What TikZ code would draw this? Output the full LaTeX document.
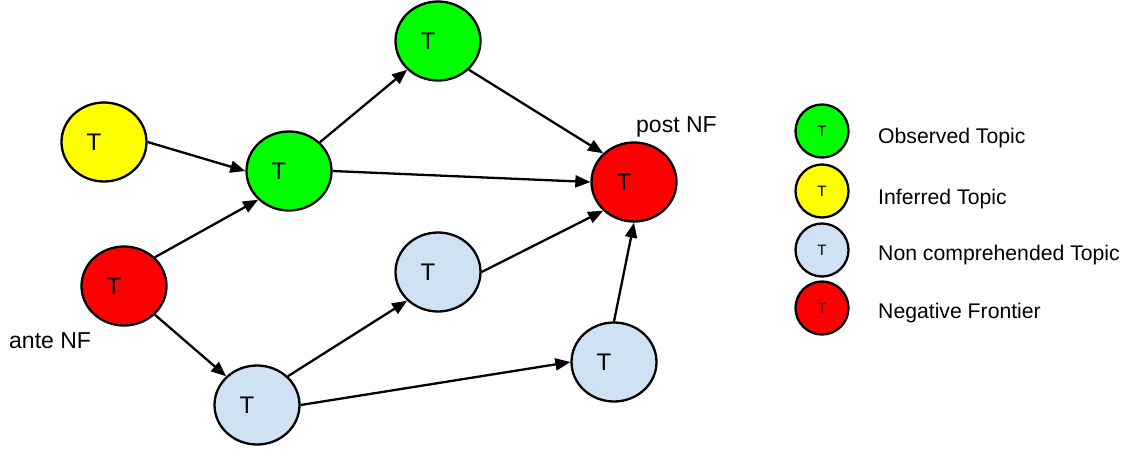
\documentclass[tikz,border=0pt]{standalone}
\usepackage{fontspec}
\setmainfont{Liberation Sans}
\usetikzlibrary{shapes.geometric,arrows.meta}
\definecolor{obsgreen}{HTML}{00FF00}
\definecolor{infyellow}{HTML}{FFFF00}
\definecolor{nfred}{HTML}{FF0000}
\definecolor{ncblue}{HTML}{CFE2F3}
\tikzset{
  topic/.style={ellipse, draw=black, line width=2.3pt, minimum width=85pt,
    minimum height=79pt, inner sep=0pt, font=\fontsize{24}{26}\selectfont},
  legdot/.style={circle, draw=black, line width=2.3pt, minimum size=53pt,
    inner sep=0pt, font=\fontsize{15}{17}\selectfont},
  legtext/.style={anchor=base west, inner sep=0pt, font=\fontsize{21.2}{24}\selectfont},
  nflabel/.style={anchor=base west, inner sep=0pt, font=\fontsize{23}{26}\selectfont},
  link/.style={line width=2.3pt, -{Triangle[length=15pt,width=12pt]}},
}
% topic label, set a little left of the ellipse centre
\newcommand{\tsym}{\hspace*{-20pt}T}
\begin{document}
\begin{tikzpicture}[x=1pt, y=-1pt]
\useasboundingbox (0,0) rectangle (1126,448);

% topic graph
\node[topic, fill=obsgreen]  (g1) at (438,41)  {\tsym};
\node[topic, fill=infyellow] (y1) at (104,142) {\tsym};
\node[topic, fill=obsgreen]  (g2) at (289,171) {\tsym};
\node[topic, fill=nfred]     (r2) at (634,182) {\tsym};
\node[topic, fill=nfred]     (r1) at (124,286) {\tsym};
\node[topic, fill=ncblue]    (b2) at (438,272) {\tsym};
\node[topic, fill=ncblue]    (b3) at (614,362) {\tsym};
\node[topic, fill=ncblue]    (b1) at (257,405) {\tsym};

\node[nflabel] (post) at (636,132) {post NF};
\node[nflabel] (ante) at (9,348) {ante NF};

% connectors
\draw[link] (y1.east) -- (g2.west);
\draw[link] (r1.north east) -- (g2.south west);
\draw[link] (g2.north east) -- (g1.south west);
\draw[link] (g1.south east) -- (r2.north west);
\draw[link] (g2.east) -- (r2.west);
\draw[link] (r1.south east) -- (b1.north west);
\draw[link] (b1.north east) -- (b2.south west);
\draw[link] (b1.east) -- (b3.west);
\draw[link] (b2.east) -- (r2.south west);
\draw[link] (b3.north) -- (r2.south);

% legend
\node[legdot, fill=obsgreen]  (lg) at (822,131) {T};
\node[legdot, fill=infyellow] (ly) at (822,191) {T};
\node[legdot, fill=ncblue]    (lb) at (822,250) {T};
\node[legdot, fill=nfred]     (lr) at (822,308) {T};
\node[legtext] (tg) at (878,143) {Observed Topic};
\node[legtext] (ty) at (878,204) {Inferred Topic};
\node[legtext] (tb) at (878,260) {Non comprehended Topic};
\node[legtext] (tr) at (878,318) {Negative Frontier};
\end{tikzpicture}
\end{document}
